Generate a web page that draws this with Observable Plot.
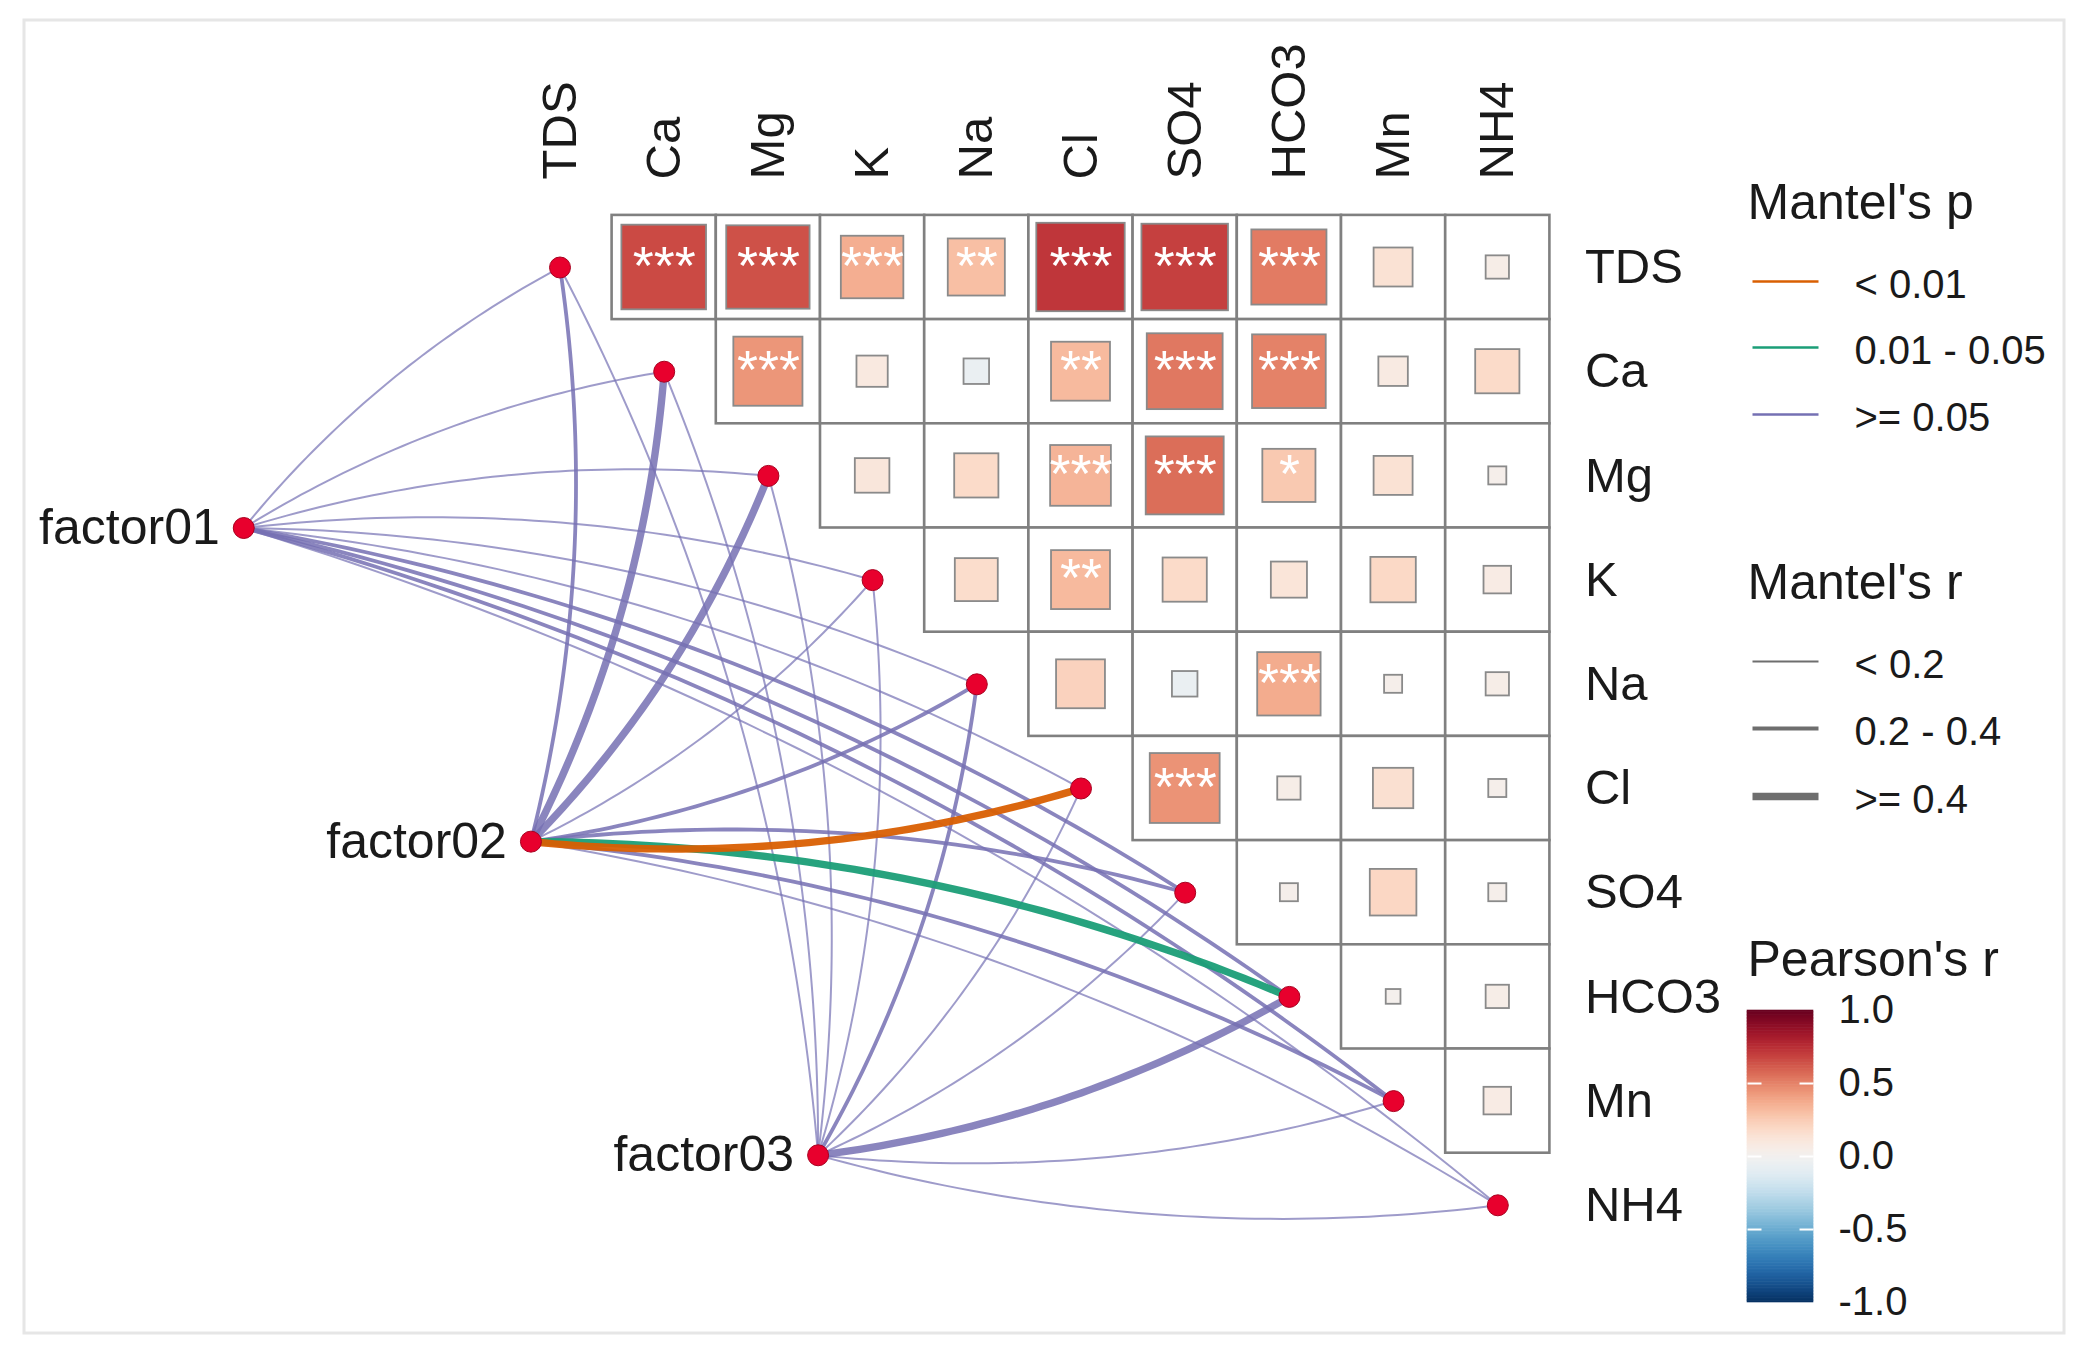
<!DOCTYPE html>
<html>
<head>
<meta charset="utf-8">
<script src="https://cdn.jsdelivr.net/npm/d3@7"></script>
<script src="https://cdn.jsdelivr.net/npm/@observablehq/plot@0.6"></script>
<style>
  body { margin: 0; background: #ffffff; }
  #chart svg { display: block; }
</style>
</head>
<body>
<div id="chart"></div>
<script>
// ---------------- data ----------------
const envs = ["TDS", "Ca", "Mg", "K", "Na", "Cl", "SO4", "HCO3", "Mn", "NH4"];
const factors = ["factor01", "factor02", "factor03"];

// Pearson's r, upper triangle: row i vs columns i+1 .. end
const pearsonRows = [
  [0.66, 0.64, 0.36, 0.30, 0.72, 0.69, 0.52, 0.14, 0.05],
  [0.44, 0.09, -0.06, 0.32, 0.53, 0.50, 0.08, 0.18],
  [0.11, 0.18, 0.34, 0.56, 0.26, 0.14, 0.03],
  [0.17, 0.32, 0.18, 0.12, 0.19, 0.07],
  [0.22, -0.06, 0.37, 0.03, 0.05],
  [0.45, 0.05, 0.15, 0.03],
  [0.03, 0.20, 0.03],
  [0.02, 0.05],
  [0.07]
];
const signifRows = [
  ["***", "***", "***", "**", "***", "***", "***", "", ""],
  ["***", "", "", "**", "***", "***", "", ""],
  ["", "", "***", "***", "*", "", ""],
  ["", "**", "", "", "", ""],
  ["", "", "***", "", ""],
  ["***", "", "", ""],
  ["", "", ""],
  ["", ""],
  [""]
];

// Mantel test, factor x env (TDS .. NH4)
const mantelR = [
  [0.12, 0.10, 0.12, 0.08, 0.10, 0.15, 0.28, 0.30, 0.26, 0.08],
  [0.30, 0.52, 0.48, 0.12, 0.28, 0.46, 0.30, 0.45, 0.27, 0.10],
  [0.10, 0.08, 0.12, 0.10, 0.25, 0.10, 0.12, 0.44, 0.12, 0.10]
];
const mantelP = [
  [0.35, 0.40, 0.30, 0.50, 0.45, 0.25, 0.12, 0.10, 0.15, 0.60],
  [0.12, 0.07, 0.08, 0.40, 0.20, 0.006, 0.15, 0.03, 0.18, 0.55],
  [0.50, 0.60, 0.45, 0.40, 0.20, 0.50, 0.45, 0.09, 0.40, 0.50]
];

const pLabels = ["< 0.01", "0.01 - 0.05", ">= 0.05"];
const rLabels = ["< 0.2", "0.2 - 0.4", ">= 0.4"];
const colorTicks = [1.0, 0.5, 0.0, -0.5, -1.0];

// ---------------- layout ----------------
const W = 2084, H = 1356;
const U = 104.2;          // cell size (px)
const X0 = 559.5, Y0 = 267; // centre of the TDS column / TDS row (px)
const ux = px => (px - X0) / U;
const uy = py => (py - Y0) / U;
const FONT = "'Liberation Sans', Arial, Helvetica, sans-serif";

const pColors = ["#D95F02", "#1B9E77", "#7570B3"];
const rWidths = [2.0, 3.8, 7.4];

// factor node layout (along a line left of the diagonal)
const fX = k => -3.035 + 2.756 * k;
const fY = k => 2.5 + 3.01 * k;

// cells
const cells = [];
pearsonRows.forEach((row, i) => row.forEach((r, k) => {
  const j = i + 1 + k;
  cells.push({i, j, r, s: Math.sqrt(Math.abs(r)), sig: signifRows[i][k]});
}));

// env & factor nodes
const envNodes = envs.map((name, i) => ({name, x: i, y: i}));
const factorNodes = factors.map((name, k) => ({name, x: fX(k), y: fY(k)}));

// links
const links = [];
factors.forEach((f, k) => envs.forEach((e, i) => {
  const r = mantelR[k][i], p = mantelP[k][i];
  const pc = p < 0.01 ? 0 : p < 0.05 ? 1 : 2;
  const rc = r < 0.2 ? 0 : r < 0.4 ? 1 : 2;
  const x0 = fX(k), y0 = fY(k), x1 = i, y1 = i;
  const side = k === 0 ? -1 : k === 2 ? 1 : (i < fY(k) ? 1 : -1);
  const dx = x1 - x0, dy = y1 - y0;
  const cx = (x0 + x1) / 2 + side * 0.1 * (-dy);
  const cy = (y0 + y1) / 2 + side * 0.1 * dx;
  const pts = d3.range(0, 1.0001, 1 / 48).map(t => ({
    x: (1 - t) * (1 - t) * x0 + 2 * (1 - t) * t * cx + t * t * x1,
    y: (1 - t) * (1 - t) * y0 + 2 * (1 - t) * t * cy + t * t * y1
  }));
  links.push({pc, rc, pts});
}));
links.sort((a, b) => (a.rc - b.rc) || (b.pc - a.pc));

const linkMarks = links.map(l => Plot.line(l.pts, {
  x: "x", y: "y",
  stroke: pColors[l.pc],
  strokeWidth: rWidths[l.rc],
  strokeOpacity: l.pc === 2 ? (l.rc === 0 ? 0.7 : 0.85) : 0.95,
  strokeLinecap: "round"
}));

// ---------------- legends ----------------
const legX1 = ux(1752), legX2 = ux(1818), legTextX = ux(1854), legTitleX = ux(1747);
const pLegY = [281, 347, 414];
const rLegY = [661, 728, 796];
const pLeg = pLabels.map((label, i) => ({label, y: uy(pLegY[i]), c: pColors[i]}));
const rLeg = rLabels.map((label, i) => ({label, y: uy(rLegY[i]), w: rWidths[i]}));

const cbTop = 1010, cbBot = 1302, cbMid = (cbTop + cbBot) / 2, cbHalf = (cbBot - cbTop) / 2;
const cbY = v => uy(cbMid - v * cbHalf);
const cbX1 = ux(1747), cbX2 = ux(1813);
const cbSteps = d3.range(-1, 1, 0.01);

const svg = Plot.plot({
  width: W, height: H, margin: 0,
  style: {fontFamily: FONT, background: "#ffffff", color: "#1a1a1a"},
  x: {domain: [ux(0), ux(W)], range: [0, W], axis: null},
  y: {domain: [uy(0), uy(H)], range: [0, H], axis: null},
  color: {type: "linear", domain: [-1, 1], scheme: "rdbu", reverse: true},
  marks: [
    // outer frame
    Plot.rect([0], {x1: ux(24), x2: ux(2064), y1: uy(20), y2: uy(1333),
      fill: "none", stroke: "#e6e6e6", strokeWidth: 3}),
    // cell grid
    Plot.rect(cells, {x1: d => d.j - 0.5, x2: d => d.j + 0.5, y1: d => d.i - 0.5, y2: d => d.i + 0.5,
      fill: "white", stroke: "#808080", strokeWidth: 2.6}),
    // squares
    Plot.rect(cells, {x1: d => d.j - d.s / 2, x2: d => d.j + d.s / 2, y1: d => d.i - d.s / 2, y2: d => d.i + d.s / 2,
      fill: "r", stroke: "#8a8a8a", strokeWidth: 1.8}),
    // significance stars
    Plot.text(cells.filter(d => d.sig), {x: "j", y: "i", text: "sig", fill: "white",
      fontSize: 54, dy: -1, fontFamily: FONT}),
    // links
    ...linkMarks,
    // nodes
    Plot.dot(envNodes, {x: "x", y: "y", r: 10.5, fill: "#e8002d", stroke: "#a8001f", strokeWidth: 1}),
    Plot.dot(factorNodes, {x: "x", y: "y", r: 10.5, fill: "#e8002d", stroke: "#a8001f", strokeWidth: 1}),
    // labels
    Plot.text(envs, {x: (d, i) => i, y: -0.5, text: d => d, rotate: -90, textAnchor: "start",
      dy: -36, fontSize: 49, fill: "#1a1a1a", fontFamily: FONT}),
    Plot.text(envs, {x: envs.length - 0.5, y: (d, i) => i, text: d => d, textAnchor: "start",
      dx: 35, fontSize: 49, fill: "#1a1a1a", fontFamily: FONT}),
    Plot.text(factorNodes, {x: "x", y: "y", text: "name", textAnchor: "end", dx: -24,
      fontSize: 50, fill: "#1a1a1a", fontFamily: FONT}),
    // Mantel's p legend
    Plot.text(["Mantel's p"], {x: legTitleX, y: uy(202), text: d => d, textAnchor: "start",
      fontSize: 50, fill: "#1a1a1a", fontFamily: FONT}),
    Plot.link(pLeg, {x1: legX1, x2: legX2, y1: "y", y2: "y", stroke: "c", strokeWidth: 2.6}),
    Plot.text(pLeg, {x: legTextX, y: d => d.y + 4 / U, text: "label", textAnchor: "start",
      fontSize: 40, fill: "#1a1a1a", fontFamily: FONT}),
    // Mantel's r legend
    Plot.text(["Mantel's r"], {x: legTitleX, y: uy(582), text: d => d, textAnchor: "start",
      fontSize: 50, fill: "#1a1a1a", fontFamily: FONT}),
    ...rLeg.map(d => Plot.link([d], {x1: legX1, x2: legX2, y1: "y", y2: "y", stroke: "#6e6e6e", strokeWidth: d.w})),
    Plot.text(rLeg, {x: legTextX, y: d => d.y + 4 / U, text: "label", textAnchor: "start",
      fontSize: 40, fill: "#1a1a1a", fontFamily: FONT}),
    // Pearson's r colour bar
    Plot.text(["Pearson's r"], {x: legTitleX, y: uy(959), text: d => d, textAnchor: "start",
      fontSize: 50, fill: "#1a1a1a", fontFamily: FONT}),
    Plot.rect(cbSteps, {x1: cbX1, x2: cbX2, y1: d => cbY(d), y2: d => cbY(d + 0.01), fill: d => d + 0.005,
      inset: -0.3}),
    Plot.link(colorTicks.filter(v => Math.abs(v) < 1), {x1: cbX1, x2: cbX1 + 14 / U, y1: d => cbY(d), y2: d => cbY(d),
      stroke: "white", strokeWidth: 2}),
    Plot.link(colorTicks.filter(v => Math.abs(v) < 1), {x1: cbX2 - 14 / U, x2: cbX2, y1: d => cbY(d), y2: d => cbY(d),
      stroke: "white", strokeWidth: 2}),
    Plot.text(colorTicks, {x: ux(1838), y: d => cbY(d), text: d => d.toFixed(1),
      textAnchor: "start", fontSize: 40, fill: "#1a1a1a", fontFamily: FONT})
  ]
});
document.getElementById("chart").appendChild(svg);
</script>
</body>
</html>
